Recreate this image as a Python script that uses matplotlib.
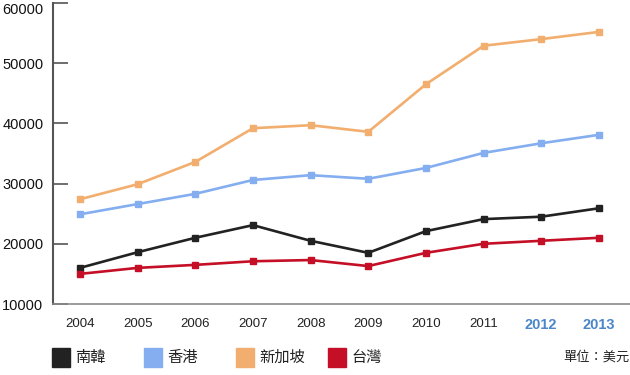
import matplotlib.pyplot as plt
import matplotlib.transforms as mtransforms
from matplotlib.patches import Rectangle

plt.rcParams['font.family'] = ['Liberation Sans', 'Noto Sans CJK TC', 'DejaVu Sans']

years = [2004, 2005, 2006, 2007, 2008, 2009, 2010, 2011, 2012, 2013]
korea = [16000, 18600, 21000, 23100, 20500, 18500, 22100, 24100, 24500, 25900]
hongkong = [24900, 26600, 28300, 30600, 31400, 30800, 32600, 35100, 36700, 38100]
singapore = [27400, 29900, 33600, 39200, 39700, 38600, 46500, 52900, 54000, 55200]
taiwan = [15000, 16000, 16500, 17100, 17300, 16300, 18500, 20000, 20500, 21000]

names = ['南韓', '香港', '新加坡', '台灣']
series = [korea, hongkong, singapore, taiwan]
colors = ['#222222', '#84aef0', '#f2ae6e', '#c40f26']

fig = plt.figure(figsize=(6.3, 3.75), dpi=100)
ax = fig.add_axes([53/630, 1 - 304/375, 577/630, 301/375])

# draw order: orange, blue, black, red on top
for i in [2, 1, 0, 3]:
    ax.plot(years, series[i], color=colors[i], lw=1.9, marker='s', ms=4.5,
            solid_joinstyle='miter', zorder=3)

ax.set_xlim(2003.532, 2013.54)
ax.set_ylim(10000, 60000)
ax.set_yticks(range(10000, 60001, 10000))
ax.set_xticks(years)

ax.spines['top'].set_visible(False)
ax.spines['right'].set_visible(False)
ax.spines['left'].set_color('#555555')
ax.spines['left'].set_linewidth(1.5)
ax.spines['bottom'].set_color('#8a8a8a')
ax.spines['bottom'].set_linewidth(1.2)

ax.tick_params(axis='y', direction='in', length=11, width=1.2, color='#555555',
               labelsize=10.5, pad=7, labelcolor='#111111')
ax.tick_params(axis='x', length=0, labelsize=9.5, pad=10, labelcolor='#222222')
for lab in ax.get_xticklabels():
    if lab.get_text() in ('2012', '2013'):
        lab.set_color('#4a86c8')
        lab.set_fontweight('bold')
        lab.set_fontsize(10.5)

# top label sits a little lower so it is not clipped
top = ax.get_yticklabels()[-1]
top.set_transform(top.get_transform() +
                  mtransforms.ScaledTranslation(0, -4/72, fig.dpi_scale_trans))

# legend
for i, name in enumerate(names):
    x0 = 52 + i * 92
    fig.add_artist(Rectangle((x0/630, 1 - 367/375), 18/630, 19/375,
                             color=colors[i], transform=fig.transFigure))
    fig.text((x0 + 23)/630, 1 - 358/375, name, fontsize=11,
             va='center', ha='left', color='#222222')

fig.text(629/630, 1 - 357/375, '單位：美元', fontsize=9.5, va='center',
         ha='right', color='#222222')

fig.savefig('out.png', dpi=100)
